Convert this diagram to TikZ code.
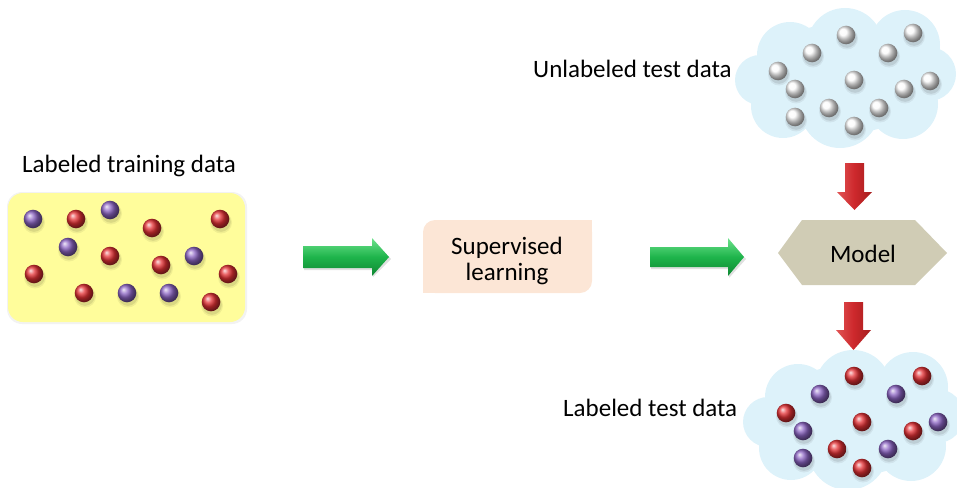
\documentclass[tikz,border=0pt]{standalone}
\usepackage{fontspec}
\setmainfont{Carlito}
\definecolor{boxyellow}{RGB}{255,253,155}
\definecolor{boxpeach}{RGB}{252,230,214}
\definecolor{modelkhaki}{RGB}{208,204,181}
\definecolor{cloudblue}{RGB}{221,242,250}
\definecolor{ballred}{RGB}{228,48,52}
\definecolor{ballpurple}{RGB}{140,100,196}
\definecolor{ballwhite}{RGB}{250,250,250}
\definecolor{arrowred}{RGB}{205,40,44}
\definecolor{greenlight}{RGB}{110,226,140}
\definecolor{greenmid}{RGB}{30,180,75}
\definecolor{greendark}{RGB}{15,135,50}
\definecolor{redlight}{RGB}{225,85,85}
\definecolor{reddark}{RGB}{165,30,30}
\begin{document}
\begin{tikzpicture}[x=1pt,y=-1pt,
  lbl/.style={font=\fontsize{25}{26}\selectfont, inner sep=0pt, text=black},
  greenarrow/.style={top color=greenlight, bottom color=greendark, middle color=greenmid},
  redarrow/.style={left color=redlight, right color=reddark, middle color=arrowred},
  cloudblob/.pic={
    \fill[cloudblue] (0,0) ellipse [x radius=88, y radius=55];
    \fill[cloudblue] (-55,-23) circle (33);
    \fill[cloudblue] (0,-32) circle (38);
    \fill[cloudblue] (60,-33) circle (35);
    \fill[cloudblue] (84,-4) circle (27);
    \fill[cloudblue] (-85,2) circle (25);
    \fill[cloudblue] (-62,28) circle (32);
    \fill[cloudblue] (-5,30) circle (40);
    \fill[cloudblue] (58,26) circle (35);
  }]
\useasboundingbox (0,0) rectangle (957,487);

% a shaded marble with a soft shadow underneath
\newcommand{\marble}[3]{%
  \fill[black,opacity=0.06] (#1+1,#2+3.5) circle (11);
  \fill[black,opacity=0.09] (#1+1,#2+3) circle (9.8);
  \shade[ball color=#3] (#1,#2) circle (9.3);
}

% ---- training data panel
\fill[black,opacity=0.05] (7,192) [rounded corners=15] rectangle (247,324);
\fill[boxyellow, rounded corners=15] (8,193) rectangle (245,322);
\foreach \x/\y in {76/219, 152/228, 220/219, 110/256, 161/265, 34/274, 228/274, 84/293, 211/302}
  {\marble{\x}{\y}{ballred}}
\foreach \x/\y in {33/219, 110/210, 68/247, 194/256, 127/293, 169/293}
  {\marble{\x}{\y}{ballpurple}}
\node[lbl, anchor=base west] (trainlbl) at (22,172) {Labeled training data};

% ---- learning step
\fill[boxpeach, rounded corners=12] (423,220) rectangle (592,293);
\fill[boxpeach] (423,262) rectangle (450,293);
\fill[boxpeach] (562,220) rectangle (592,250);
\node[lbl, align=center] (learn) at (507,261) {Supervised\\learning};

% ---- model
\fill[modelkhaki] (778,253) -- (802,220) -- (915,220) -- (947,253) -- (915,285) -- (802,285) -- cycle;
\node[lbl] (model) at (863,254) {Model};

% ---- green block arrows
\fill[black,opacity=0.12] (304,248) -- (373,248) -- (373,240) -- (391,259) -- (373,277) -- (373,270) -- (304,270) -- cycle;
\shade[greenarrow] (303,246) -- (372,246) -- (372,238) -- (389,257) -- (372,276) -- (372,268) -- (303,268) -- cycle;
\fill[black,opacity=0.12] (651,249) -- (729,249) -- (729,240) -- (746,259) -- (729,278) -- (729,269) -- (651,269) -- cycle;
\shade[greenarrow] (650,247) -- (728,247) -- (728,238) -- (744,257) -- (728,276) -- (728,267) -- (650,267) -- cycle;

% ---- clouds
\pic (topcloud) at (845,78) {cloudblob};
\pic (botcloud) at (853,420) {cloudblob};

\foreach \x/\y in {846/35, 913/33, 812/53, 888/53, 778/71, 854/80, 930/81, 795/89, 904/89, 829/108, 879/108, 795/117, 854/126}
  {\marble{\x}{\y}{ballwhite}}
\node[lbl, anchor=base west] (unlbl) at (533,77) {Unlabeled test data};

\foreach \x/\y in {854/376, 922/376, 786/413, 862/422, 913/431, 837/449, 862/468}
  {\marble{\x}{\y}{ballred}}
\foreach \x/\y in {820/394, 896/394, 938/422, 803/431, 888/449, 803/458}
  {\marble{\x}{\y}{ballpurple}}
\node[lbl, anchor=base west] (testlbl) at (563,416) {Labeled test data};

% ---- red block arrows
\shade[redarrow] (845,163) -- (864,163) -- (864,192) -- (872,192) -- (854.5,210) -- (837,192) -- (845,192) -- cycle;
\shade[redarrow] (844,302) -- (863,302) -- (863,330) -- (871,330) -- (853.5,350) -- (836,330) -- (844,330) -- cycle;
\end{tikzpicture}
\end{document}
